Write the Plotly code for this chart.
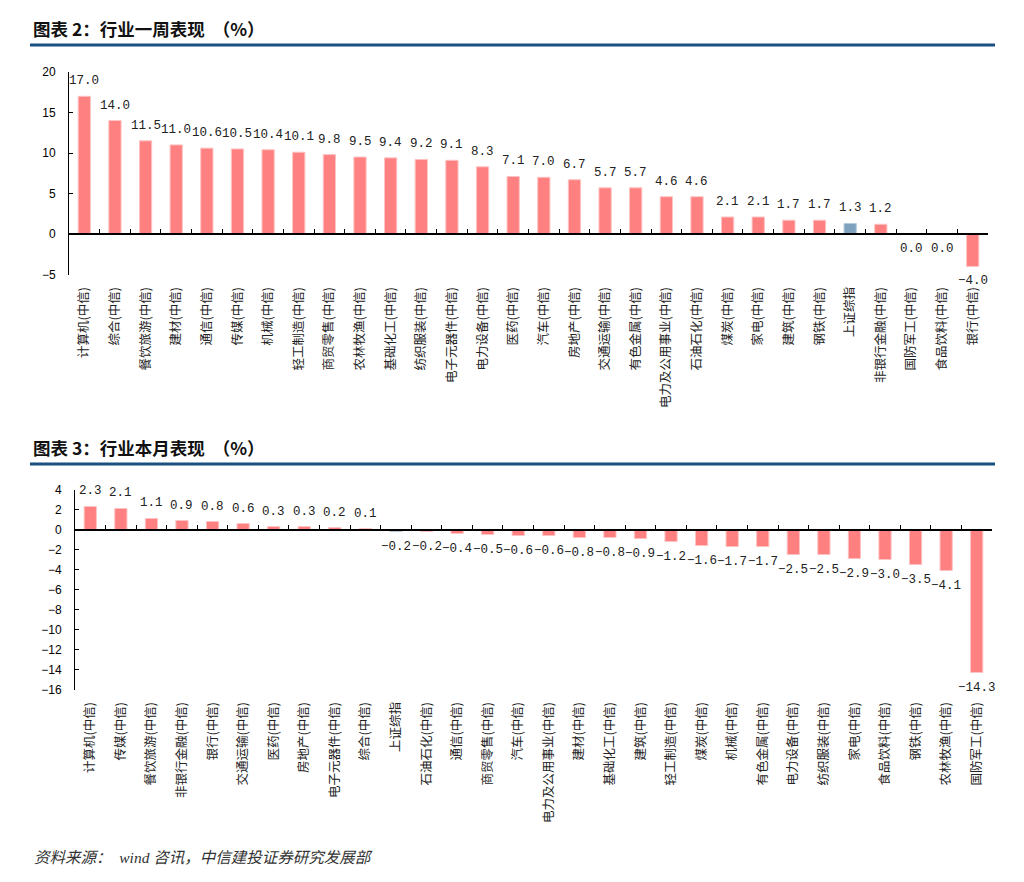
import plotly.graph_objects as go

# ---------------- data ----------------
week_cats = ["计算机(中信)", "综合(中信)", "餐饮旅游(中信)", "建材(中信)", "通信(中信)", "传媒(中信)",
             "机械(中信)", "轻工制造(中信)", "商贸零售(中信)", "农林牧渔(中信)", "基础化工(中信)",
             "纺织服装(中信)", "电子元器件(中信)", "电力设备(中信)", "医药(中信)", "汽车(中信)",
             "房地产(中信)", "交通运输(中信)", "有色金属(中信)", "电力及公用事业(中信)", "石油石化(中信)",
             "煤炭(中信)", "家电(中信)", "建筑(中信)", "钢铁(中信)", "上证综指", "非银行金融(中信)",
             "国防军工(中信)", "食品饮料(中信)", "银行(中信)"]
week_vals = [17.0, 14.0, 11.5, 11.0, 10.6, 10.5, 10.4, 10.1, 9.8, 9.5, 9.4, 9.2, 9.1, 8.3, 7.1, 7.0,
             6.7, 5.7, 5.7, 4.6, 4.6, 2.1, 2.1, 1.7, 1.7, 1.3, 1.2, -0.04, -0.04, -4.0]

month_cats = ["计算机(中信)", "传媒(中信)", "餐饮旅游(中信)", "非银行金融(中信)", "银行(中信)",
              "交通运输(中信)", "医药(中信)", "房地产(中信)", "电子元器件(中信)", "综合(中信)", "上证综指",
              "石油石化(中信)", "通信(中信)", "商贸零售(中信)", "汽车(中信)", "电力及公用事业(中信)",
              "建材(中信)", "基础化工(中信)", "建筑(中信)", "轻工制造(中信)", "煤炭(中信)", "机械(中信)",
              "有色金属(中信)", "电力设备(中信)", "纺织服装(中信)", "家电(中信)", "食品饮料(中信)",
              "钢铁(中信)", "农林牧渔(中信)", "国防军工(中信)"]
month_vals = [2.3, 2.1, 1.1, 0.9, 0.8, 0.6, 0.3, 0.3, 0.2, 0.1, -0.2, -0.2, -0.4, -0.5, -0.6, -0.6,
              -0.8, -0.8, -0.9, -1.2, -1.6, -1.7, -1.7, -2.5, -2.5, -2.9, -3.0, -3.5, -4.1, -14.3]

week_range = [-5, 20]
month_range = [-16, 4]
week_dtick = 5
month_dtick = 2

title1 = "图表 2：行业一周表现\u00a0\u00a0（%）"
title2 = "图表 3：行业本月表现\u00a0\u00a0（%）"
source = "资料来源：\u00a0\u00a0wind 咨讯，中信建投证券研究发展部"
index_name = "上证综指"

# ---------------- style ----------------
W, H = 1024, 882
OFF = 8                      # page body margin
FW, FH = W - 2 * OFF, H - 2 * OFF
RED = "#FF8080"
RED_EDGE = "#FFC2C2"
BLUE = "#7FA3BF"
BLUE_EDGE = "#B5CADB"
NAVY = "#1A4F82"
CJK = "Noto Sans CJK SC"
NUM = "Liberation Mono"


def px_x(p):
    return (p - OFF) / FW


def px_y(p):
    return 1 - (p - OFF) / FH


def label(v):
    r = round(v, 1)
    if r == 0:
        return "0.0"
    s = f"{r:.1f}"
    return s.replace("-", "\u2212")


# plot-area domains (pixels -> paper)
top_dom_x = [px_x(69), px_x(988)]
top_dom_y = [px_y(274.5), px_y(72)]
bot_dom_x = [px_x(75), px_x(992)]
bot_dom_y = [px_y(689.5), px_y(489.5)]


def zero_pos(dom, rng):
    return dom[0] + (0 - rng[0]) / (rng[1] - rng[0]) * (dom[1] - dom[0])


fig = go.Figure()

for cats, vals, xa, ya in [(week_cats, week_vals, "x", "y"), (month_cats, month_vals, "x2", "y2")]:
    fig.add_trace(go.Bar(
        x=cats, y=vals, xaxis=xa, yaxis=ya,
        marker=dict(color=[BLUE if c == index_name else RED for c in cats],
                    line=dict(color=[BLUE_EDGE if c == index_name else RED_EDGE for c in cats], width=1)),
        cliponaxis=False, showlegend=False, hoverinfo="skip",
    ))
    for c, v in zip(cats, vals):
        pos = v > 0
        fig.add_annotation(
            x=c, y=v, xref=xa, yref=ya, text=label(v), showarrow=False,
            yanchor="bottom" if pos else "top", yshift=6 if pos else -6,
            font=dict(family=NUM, size=12.5, color="#222222"),
        )

xcommon = dict(type="category", showline=False, ticks="", showgrid=False, zeroline=False,
               tickangle=-90, tickfont=dict(family=CJK, size=12.5, color="#222222"),
               ticklabelstandoff=9, automargin=False)
ycommon = dict(showline=True, linecolor="black", linewidth=1, ticks="inside", ticklen=4,
               tickcolor="black", showgrid=False, zeroline=False,
               tickfont=dict(family="Liberation Sans", size=12, color="black"),
               ticklabelstandoff=10, automargin=False)

n1, n2 = len(week_cats), len(month_cats)

fig.update_layout(
    width=FW, height=FH,
    margin=dict(l=0, r=0, t=0, b=0),
    paper_bgcolor="white", plot_bgcolor="white",
    bargap=0.6,
    xaxis=dict(domain=top_dom_x, anchor="y", range=[-0.5, n1 - 0.5], **xcommon),
    yaxis=dict(domain=top_dom_y, anchor="x", range=week_range, dtick=week_dtick, **ycommon),
    xaxis2=dict(domain=bot_dom_x, anchor="y2", range=[-0.5, n2 - 0.5], **xcommon),
    yaxis2=dict(domain=bot_dom_y, anchor="x2", range=month_range, dtick=month_dtick, **ycommon),
    # zero-line axes with category-boundary tick marks
    xaxis3=dict(overlaying="x", domain=top_dom_x, anchor="free",
                position=zero_pos(top_dom_y, week_range), type="linear",
                range=[-0.5, n1 - 0.5], tickvals=[i + 0.5 for i in range(n1)],
                showticklabels=False, showline=True, linecolor="black", linewidth=1.5,
                ticks="inside", ticklen=4, tickcolor="black", tickwidth=1,
                showgrid=False, zeroline=False),
    xaxis4=dict(overlaying="x2", domain=bot_dom_x, anchor="free",
                position=zero_pos(bot_dom_y, month_range), type="linear",
                range=[-0.5, n2 - 0.5], tickvals=[i + 0.5 for i in range(n2)],
                showticklabels=False, showline=True, linecolor="black", linewidth=1.5,
                ticks="inside", ticklen=4, tickcolor="black", tickwidth=1,
                showgrid=False, zeroline=False),
)

# invisible helper traces so overlay axes render
fig.add_trace(go.Scatter(x=[0], y=[0], xaxis="x3", yaxis="y", mode="markers",
                         marker=dict(opacity=0), showlegend=False, hoverinfo="skip"))
fig.add_trace(go.Scatter(x=[0], y=[0], xaxis="x4", yaxis="y2", mode="markers",
                         marker=dict(opacity=0), showlegend=False, hoverinfo="skip"))

# titles, rules and source
for txt, ty, ly in [(title1, 28, 45), (title2, 447, 464)]:
    fig.add_annotation(text=f"<b>{txt}</b>", xref="paper", yref="paper", x=px_x(31), y=px_y(ty),
                       xanchor="left", yanchor="middle", showarrow=False,
                       font=dict(family=CJK, size=17.5, color="#111111"))
    fig.add_shape(type="line", xref="paper", yref="paper", x0=px_x(30), x1=px_x(995),
                  y0=px_y(ly), y1=px_y(ly), line=dict(color=NAVY, width=3))

fig.add_annotation(text=f"<i>{source}</i>", xref="paper", yref="paper", x=px_x(32), y=px_y(857),
                   xanchor="left", yanchor="middle", showarrow=False,
                   font=dict(family="Liberation Serif, " + CJK, size=15.5, color="#333333"))

fig.write_html("out.html")
